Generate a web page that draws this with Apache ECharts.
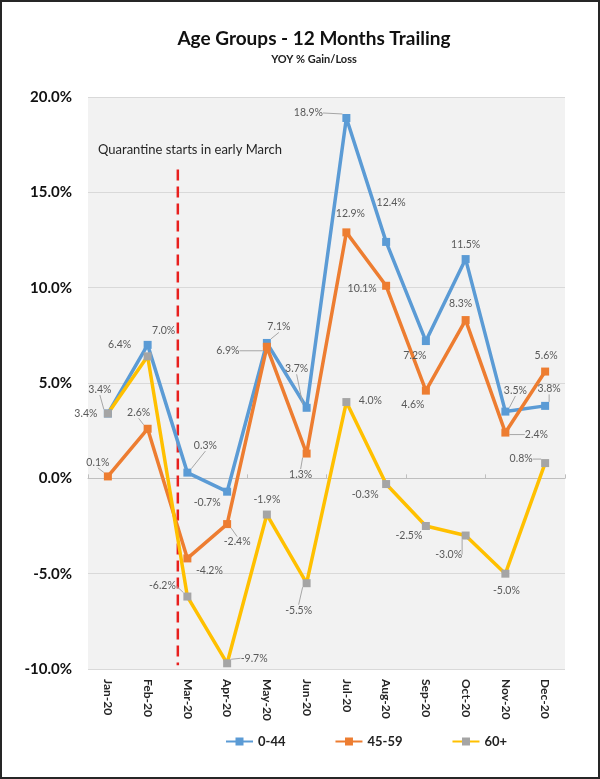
<!DOCTYPE html>
<html>
<head>
<meta charset="utf-8">
<script src="https://cdn.jsdelivr.net/npm/echarts@6/dist/echarts.min.js"></script>
<style>
  html, body { margin: 0; padding: 0; background: #fff; }
  #chart { width: 600px; height: 779px; box-sizing: border-box; border: 2px solid #262626; }
</style>
</head>
<body>
<div id="chart"></div>
<script>
var months = ['Jan-20', 'Feb-20', 'Mar-20', 'Apr-20', 'May-20', 'Jun-20',
              'Jul-20', 'Aug-20', 'Sep-20', 'Oct-20', 'Nov-20', 'Dec-20'];
var young = [3.4, 7.0, 0.3, -0.7, 7.1, 3.7, 18.9, 12.4, 7.2, 11.5, 3.5, 3.8];
var middle = [0.1, 2.6, -4.2, -2.4, 6.9, 1.3, 12.9, 10.1, 4.6, 8.3, 2.4, 5.6];
var senior = [3.4, 6.4, -6.2, -9.7, -1.9, -5.5, 4.0, -0.3, -2.5, -3.0, -5.0, 0.8];
var yTicks = { min: -10, max: 20, step: 5 };
// quarantine marker, in month-index units (0 = left edge of Jan)
var quarantineAt = 2.26;
var quarantineSpan = [16.2, -9.8];

// where each data label sits relative to its marker (px) and whether it has a leader line
var youngShift = [[-8,-24,1],[16,-14,0],[18,-27,1],[-20,11,0],[12,-16,1],[-10,-39,1],
                  [-38,-5,1],[5,-39,0],[-11,15,0],[0,-14,0],[10,-21,1],[4,-17,1]];
var middleShift = [[-10,-14,1],[-9,-16,1],[22,12,0],[10,18,1],[-39,4,1],[-6,21,1],
                   [4,-19,0],[-24,3,0],[-13,14,0],[-5,-16,0],[31,2,1],[1,-16,0]];
var seniorShift = [[-22,0,0],[-28,-12,0],[-25,-11,1],[27,-5,1],[0,-15,0],[-8,27,1],
                   [24,-1,0],[-21,11,0],[-17,10,0],[-17,19,1],[1,17,0],[-24,-4,1]];

var font = 'Lato, "Open Sans", sans-serif';

function withLeaders(values, shift) {
  return values.map(function (v, i) {
    return { value: v, labelLine: { show: !!shift[i][2] } };
  });
}

function placer(shift) {
  return function (params) {
    var r = params.rect, s = shift[params.dataIndex];
    return {
      x: r.x + r.width / 2 + s[0],
      y: r.y + r.height / 2 + s[1],
      align: 'center',
      verticalAlign: 'middle'
    };
  };
}

function groupSeries(name, values, shift, lineColor, markColor) {
  return {
    name: name,
    type: 'line',
    data: withLeaders(values, shift),
    symbol: 'rect',
    symbolSize: 8,
    lineStyle: { color: lineColor, width: 3.5 },
    itemStyle: { color: markColor },
    label: {
      show: true,
      formatter: function (p) { return p.value.toFixed(1) + '%'; },
      color: '#595959',
      fontSize: 10.5,
      fontFamily: font
    },
    labelLine: { show: false, lineStyle: { color: '#a6a6a6', width: 1 } },
    labelLayout: placer(shift),
    emphasis: { disabled: true }
  };
}

var chart = echarts.init(document.getElementById('chart'));

var option = {
  animation: false,
  title: {
    text: 'Age Groups - 12 Months Trailing',
    subtext: 'YOY % Gain/Loss',
    left: 307,
    textAlign: 'center',
    top: 22,
    itemGap: 6,
    textStyle: { fontFamily: font, fontSize: 19, fontWeight: 'bold', color: '#111' },
    subtextStyle: { fontFamily: font, fontSize: 11, fontWeight: 'bold', color: '#222' }
  },
  legend: {
    bottom: 24,
    left: 218,
    itemWidth: 27,
    itemHeight: 10,
    itemGap: 49,
    data: ['0-44', '45-59', '60+'],
    textStyle: { fontFamily: font, fontSize: 13, fontWeight: 'bold', color: '#222' }
  },
  grid: {
    left: 86, right: 33, top: 95, bottom: 108,
    show: true, backgroundColor: '#f2f2f2', borderWidth: 0
  },
  graphic: [{
    type: 'text',
    left: 96,
    top: 141,
    style: { text: 'Quarantine starts in early March', fontFamily: font, fontSize: 13, fill: '#262626' }
  }],
  xAxis: [{
    type: 'category',
    data: months,
    boundaryGap: true,
    axisLine: { show: false, onZero: false },
    axisTick: { show: false },
    axisLabel: { rotate: -90, margin: 10, fontFamily: font, fontSize: 12, fontWeight: 'bold', color: '#262626' }
  }, {
    type: 'category',
    data: months,
    boundaryGap: true,
    axisLine: { show: true, onZero: true, lineStyle: { color: '#bfbfbf', width: 1 } },
    axisTick: { show: true, length: 4, lineStyle: { color: '#bfbfbf' } },
    axisLabel: { show: false }
  }, {
    type: 'value',
    min: 0,
    max: months.length,
    show: false
  }],
  yAxis: {
    type: 'value',
    min: yTicks.min,
    max: yTicks.max,
    interval: yTicks.step,
    axisLine: { show: false },
    axisTick: { show: false },
    splitLine: { lineStyle: { color: '#d9d9d9', width: 1 } },
    axisLabel: {
      margin: 16,
      fontFamily: font, fontSize: 15, fontWeight: 'bold', color: '#111',
      formatter: function (v) { return v.toFixed(1) + '%'; }
    }
  },
  series: [
    groupSeries('0-44', young, youngShift, '#5b9bd5', '#5b9bd5'),
    groupSeries('45-59', middle, middleShift, '#ed7d31', '#ed7d31'),
    groupSeries('60+', senior, seniorShift, '#ffc000', '#a5a5a5'),
    {
      name: 'quarantine',
      type: 'line',
      xAxisIndex: 2,
      data: [[quarantineAt, quarantineSpan[0]], [quarantineAt, quarantineSpan[1]]],
      symbol: 'none',
      lineStyle: { color: '#e8201e', width: 2.5, type: [11, 6] },
      silent: true,
      z: 1
    }
  ]
};

chart.setOption(option);
</script>
</body>
</html>
